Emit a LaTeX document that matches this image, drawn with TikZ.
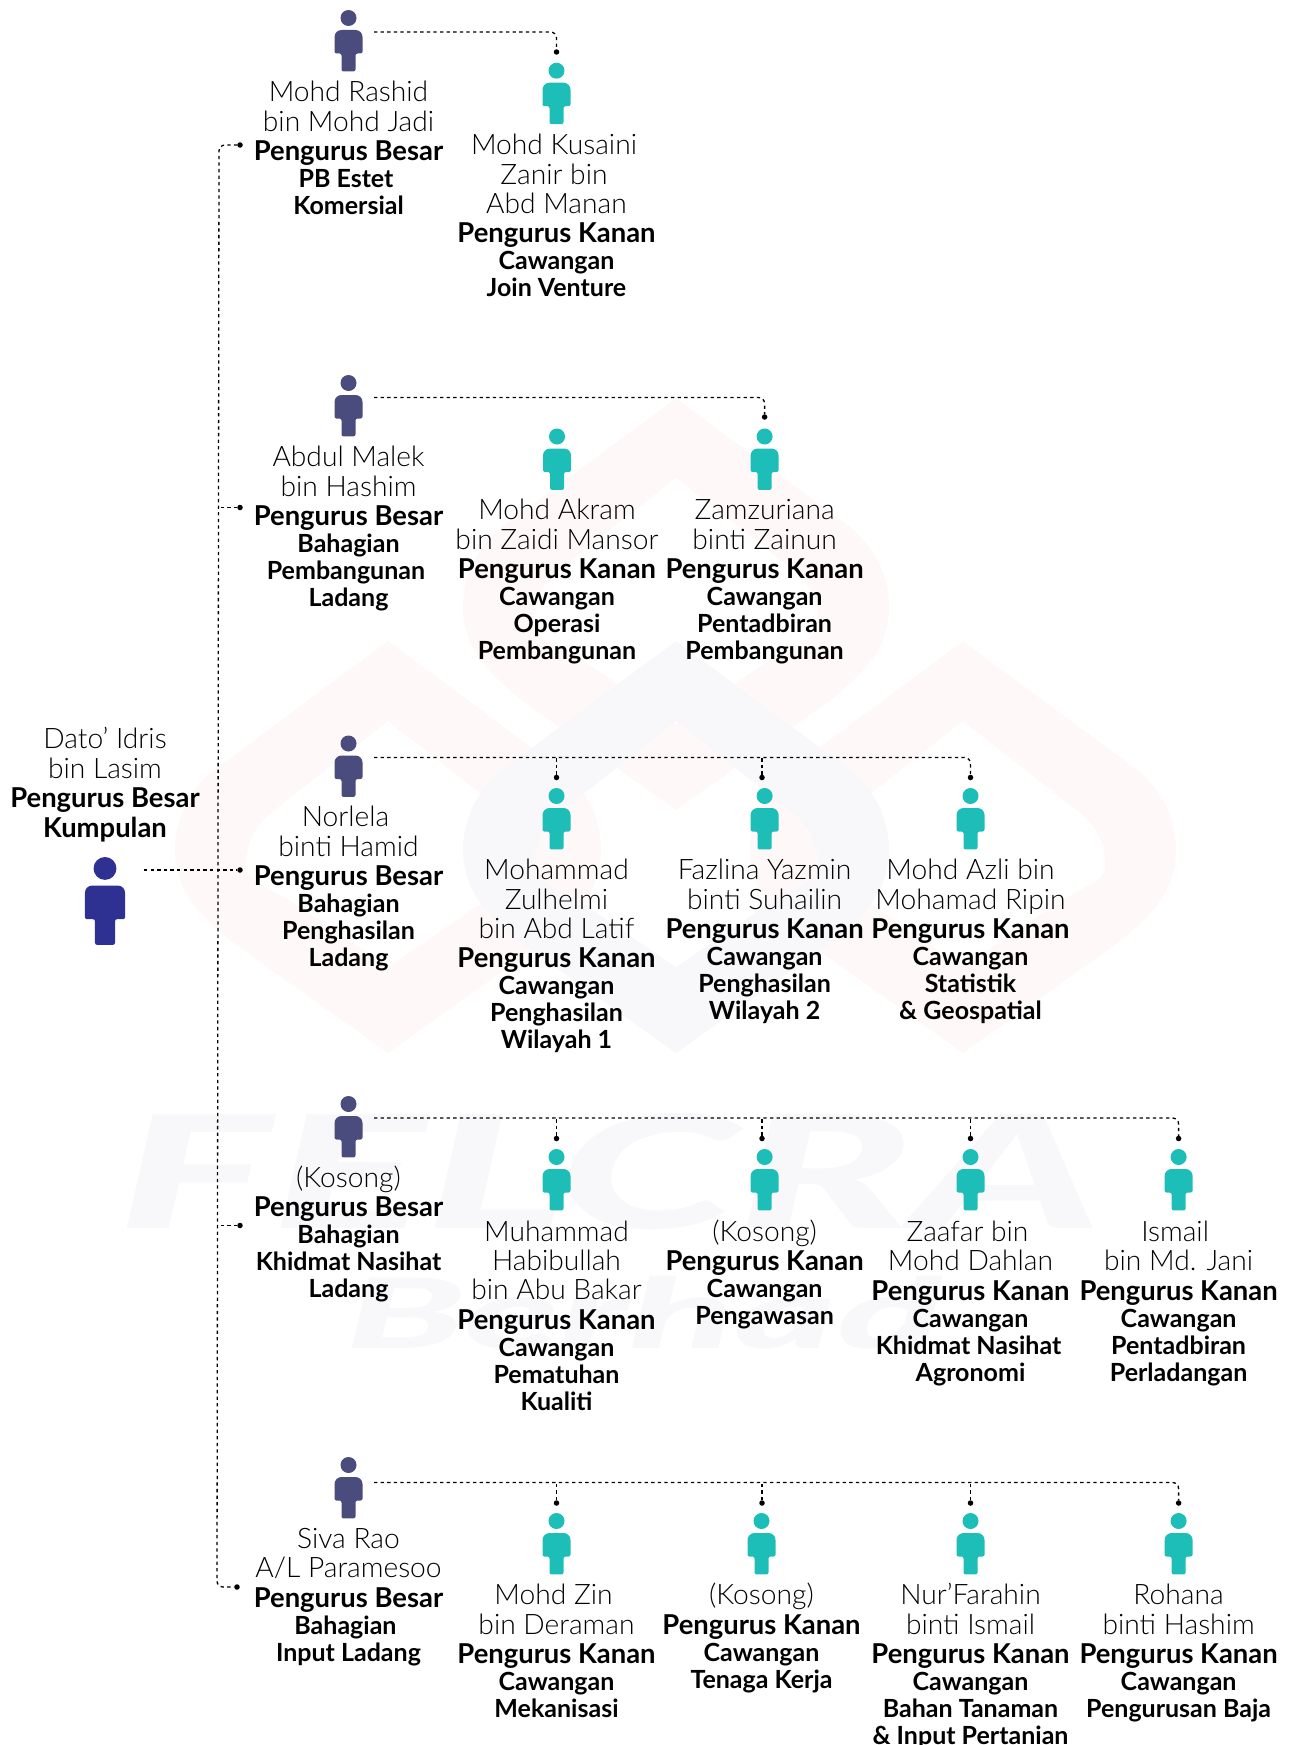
\documentclass[tikz,border=0pt]{standalone}
\usepackage{fontspec}
\setmainfont{Lato}
\newfontfamily\lightfam{Lato Light}
\newfontfamily\boldfam{Lato Bold}
\newfontfamily\wmfam{Lato Black}
\renewcommand\arraystretch{0}
\newcommand\nl[1]{{\lightfam\fontsize{28.2}{29}\selectfont\rule[-8pt]{0pt}{29.4pt}#1}\\}
\newcommand\tl[1]{{\boldfam\fontsize{27.4}{29}\selectfont\rule[-8pt]{0pt}{29.5pt}#1}\\}
\newcommand\sbl[1]{{\boldfam\fontsize{25}{27}\selectfont\rule[-8pt]{0pt}{27pt}#1}\\}
\newcommand\card[4]{\node[cardtext] (#1) at (#2,#3) {\begin{tabular}{@{}c@{}}#4\end{tabular}};}
\newcommand\person[5]{%
  \node[personbox,minimum width=#5*28pt,minimum height=#5*61.4pt] (#1) at (#2,#3+#5*30.7) {};
  \begin{scope}[shift={(#2,#3)},scale=#5]
    \fill[#4] (0,8) circle (8);
    \fill[#4,rounded corners=2] (-14,43.5) [rounded corners=7] -- (-14,20) -- (14,20) [rounded corners=2] -- (14,43.5) -- (7,43.5) -- (7,61.4) -- (-7,61.4) -- (-7,43.5) -- cycle;
  \end{scope}}
\newcommand\logoring[3]{%
  \fill[#3,even odd rule,shift={(#1,#2)}]
    (676,398) -- (502,527) .. controls (478,546) and (463,575) .. (463,607)
    .. controls (463,650) and (490,678) .. (541,714) -- (676,810) -- (811,714)
    .. controls (862,678) and (889,650) .. (889,607) .. controls (889,575) and (874,546) .. (850,527) -- cycle
    (676,478) -- (559,570) .. controls (543,583) and (534,600) .. (534,622)
    .. controls (534,640) and (555,642) .. (588,664) -- (676,724) -- (764,664)
    .. controls (797,642) and (818,640) .. (818,622) .. controls (818,600) and (809,583) .. (793,570) -- cycle;}
\definecolor{boss}{HTML}{2E3192}
\definecolor{head}{HTML}{4A4C7D}
\definecolor{staff}{HTML}{1DBDB8}
\definecolor{wmpink}{HTML}{FFF8F8}
\definecolor{wmblue}{HTML}{F8F8FB}
\definecolor{ink}{HTML}{000000}
\tikzset{
  cardtext/.style={anchor=north,inner sep=0pt,text=ink},
  personbox/.style={inner sep=0pt,outer sep=0pt},
  link/.style={black,line width=1.3pt,dash pattern=on 3.3pt off 3.3pt},
  bentlink/.style={link,rounded corners=6pt},
  dot/.style={circle,fill=black,minimum size=5.5pt,inner sep=0pt,outer sep=0pt},
  watermark/.style={inner sep=0pt,text=wmblue,anchor=base west,transform shape}
}
\begin{document}
\begin{tikzpicture}[x=1pt,y=-1pt]
\useasboundingbox (0,0) rectangle (1290,1745);
% watermark
\logoring{0}{0}{wmpink}
\logoring{-288}{243}{wmpink}
\logoring{287}{243}{wmpink}
\logoring{0}{243}{wmblue}
\begin{scope}[shift={(117,1228)},xscale=1.84]
\node[watermark] (wmf) at (0,0) {\wmfam\itshape\fontsize{157}{157}\selectfont FELCRA};
\end{scope}
\begin{scope}[shift={(345,1348)},xscale=2.0]
\node[watermark] (wmb) at (0,0) {\wmfam\itshape\fontsize{97}{97}\selectfont Berhad};
\end{scope}
% people
\person{boss}{105}{857}{boss}{1.43}
\person{h1}{348.5}{10}{head}{1}
\person{h2}{348.5}{375}{head}{1}
\person{h3}{348.5}{735.5}{head}{1}
\person{h4}{348.5}{1096}{head}{1}
\person{h5}{348.5}{1457}{head}{1}
\person{s11}{556.5}{62.7}{staff}{1}
\person{s21}{557}{428.5}{staff}{1}
\person{s22}{764.6}{428.5}{staff}{1}
\person{s31}{556.5}{788}{staff}{1}
\person{s32}{764.6}{788}{staff}{1}
\person{s33}{970.5}{788}{staff}{1}
\person{s41}{556.5}{1149}{staff}{1}
\person{s42}{764.6}{1149}{staff}{1}
\person{s43}{970.5}{1149}{staff}{1}
\person{s44}{1178.6}{1149}{staff}{1}
\person{s51}{556.5}{1513}{staff}{1}
\person{s52}{761.5}{1513}{staff}{1}
\person{s53}{970.5}{1513}{staff}{1}
\person{s54}{1178.6}{1513}{staff}{1}
% text
\card{tboss}{105}{727}{\nl{Dato’ Idris}\nl{bin Lasim}\tl{Pengurus Besar}\tl{Kumpulan}}
\card{th1}{348.5}{80}{\nl{Mohd Rashid}\nl{bin Mohd Jadi}\tl{Pengurus Besar}\sbl{PB Estet\hspace*{5pt}}\sbl{Komersial}}
\card{ts11}{556.5}{133}{\nl{Mohd Kusaini\hspace*{5pt}}\nl{Zanir bin\hspace*{5pt}}\nl{Abd Manan}\tl{Pengurus Kanan}\sbl{Cawangan}\sbl{Join Venture}}
\card{th2}{348.5}{445}{\nl{Abdul Malek}\nl{bin Hashim}\tl{Pengurus Besar}\sbl{Bahagian}\sbl{Pembangunan\hspace*{5pt}}\sbl{Ladang}}
\card{ts21}{557}{498}{\nl{Mohd Akram}\nl{bin Zaidi Mansor}\tl{Pengurus Kanan}\sbl{Cawangan}\sbl{Operasi}\sbl{Pembangunan}}
\card{ts22}{764.6}{498}{\nl{Zamzuriana}\nl{binti Zainun}\tl{Pengurus Kanan}\sbl{Cawangan}\sbl{Pentadbiran}\sbl{Pembangunan}}
\card{th3}{348.5}{805}{\nl{Norlela\hspace*{6pt}}\nl{binti Hamid}\tl{Pengurus Besar}\sbl{Bahagian}\sbl{Penghasilan}\sbl{Ladang}}
\card{ts31}{556.5}{858}{\nl{Mohammad}\nl{Zulhelmi}\nl{bin Abd Latif}\tl{Pengurus Kanan}\sbl{Cawangan}\sbl{Penghasilan}\sbl{Wilayah 1}}
\card{ts32}{764.6}{858}{\nl{Fazlina Yazmin}\nl{binti Suhailin}\tl{Pengurus Kanan}\sbl{Cawangan}\sbl{Penghasilan}\sbl{Wilayah 2}}
\card{ts33}{970.5}{858}{\nl{Mohd Azli bin}\nl{Mohamad Ripin}\tl{Pengurus Kanan}\sbl{Cawangan}\sbl{Statistik}\sbl{\& Geospatial}}
\card{th4}{348.5}{1165.5}{\nl{(Kosong)}\tl{Pengurus Besar}\sbl{Bahagian}\sbl{Khidmat Nasihat}\sbl{Ladang}}
\card{ts41}{556.5}{1219.5}{\nl{Muhammad}\nl{Habibullah}\nl{bin Abu Bakar}\tl{Pengurus Kanan}\sbl{Cawangan}\sbl{Pematuhan}\sbl{Kualiti}}
\card{ts42}{764.6}{1219.5}{\nl{(Kosong)}\tl{Pengurus Kanan}\sbl{Cawangan}\sbl{Pengawasan}}
\card{ts43}{970.5}{1219.5}{\nl{Zaafar bin\hspace*{6pt}}\nl{Mohd Dahlan}\tl{Pengurus Kanan}\sbl{Cawangan}\sbl{Khidmat Nasihat\hspace*{4pt}}\sbl{Agronomi}}
\card{ts44}{1178.6}{1219.5}{\nl{Ismail\hspace*{7pt}}\nl{bin Md. Jani}\tl{Pengurus Kanan}\sbl{Cawangan}\sbl{Pentadbiran}\sbl{Perladangan}}
\card{th5}{348.5}{1526.5}{\nl{Siva Rao}\nl{A/L Paramesoo}\tl{Pengurus Besar}\sbl{Bahagian\hspace*{6pt}}\sbl{Input Ladang}}
\card{ts51}{556.5}{1583}{\nl{Mohd Zin\hspace*{6pt}}\nl{bin Deraman}\tl{Pengurus Kanan}\sbl{Cawangan}\sbl{Mekanisasi}}
\card{ts52}{761.5}{1583}{\nl{(Kosong)}\tl{Pengurus Kanan}\sbl{Cawangan}\sbl{Tenaga Kerja}}
\card{ts53}{970.5}{1583}{\nl{Nur’Farahin}\nl{binti Ismail}\tl{Pengurus Kanan}\sbl{Cawangan}\sbl{Bahan Tanaman}\sbl{\& Input Pertanian}}
\card{ts54}{1178.6}{1583}{\nl{Rohana}\nl{binti Hashim}\tl{Pengurus Kanan}\sbl{Cawangan}\sbl{Pengurusan Baja}}
% trunk
\coordinate (ms) at (144,870);
\coordinate (tt) at (219,145);
\coordinate (tb) at (217,1587);
\node[dot] (t1) at (240,145) {};
\node[dot] (t2) at (240,507.5) {};
\node[dot] (t3) at (240,870) {};
\node[dot] (t4) at (240,1225.5) {};
\node[dot] (t5) at (237,1587) {};
\draw[bentlink] (t1) -- (tt) -- (tb) -- (t5);
\draw[link] (ms) -- (t3);
\draw[link] (t2) -- (t2 -| tt);
\draw[link] (t4) -- (t4 -| tt);
% row connectors
\coordinate (r1) at (374,32);
\coordinate (r2) at (374,397.5);
\coordinate (r3) at (374,757.5);
\coordinate (r4) at (374,1118);
\coordinate (r5) at (374,1482.5);
\node[dot] (d11) at (556.5,52) {};
\node[dot] (d22) at (764.6,417) {};
\node[dot] (d31) at (556.5,777.5) {};
\node[dot] (d32) at (762,777.5) {};
\node[dot] (d33) at (970.5,777.5) {};
\node[dot] (d41) at (556.5,1138.5) {};
\node[dot] (d42) at (762,1138.5) {};
\node[dot] (d43) at (970.5,1138.5) {};
\node[dot] (d44) at (1178.6,1138.5) {};
\node[dot] (d51) at (556.5,1503) {};
\node[dot] (d52) at (762,1503) {};
\node[dot] (d53) at (970.5,1503) {};
\node[dot] (d54) at (1178.6,1503) {};
\draw[bentlink] (r1) -| (d11);
\draw[bentlink] (r2) -| (d22);
\draw[bentlink] (r3) -| (d33);
\draw[bentlink] (r4) -| (d44);
\draw[bentlink] (r5) -| (d54);
\draw[link] (d31) -- (d31 |- r3);
\draw[link] (d32) -- (d32 |- r3);
\draw[link] (d41) -- (d41 |- r4);
\draw[link] (d42) -- (d42 |- r4);
\draw[link] (d43) -- (d43 |- r4);
\draw[link] (d51) -- (d51 |- r5);
\draw[link] (d52) -- (d52 |- r5);
\draw[link] (d53) -- (d53 |- r5);
\end{tikzpicture}
\end{document}
